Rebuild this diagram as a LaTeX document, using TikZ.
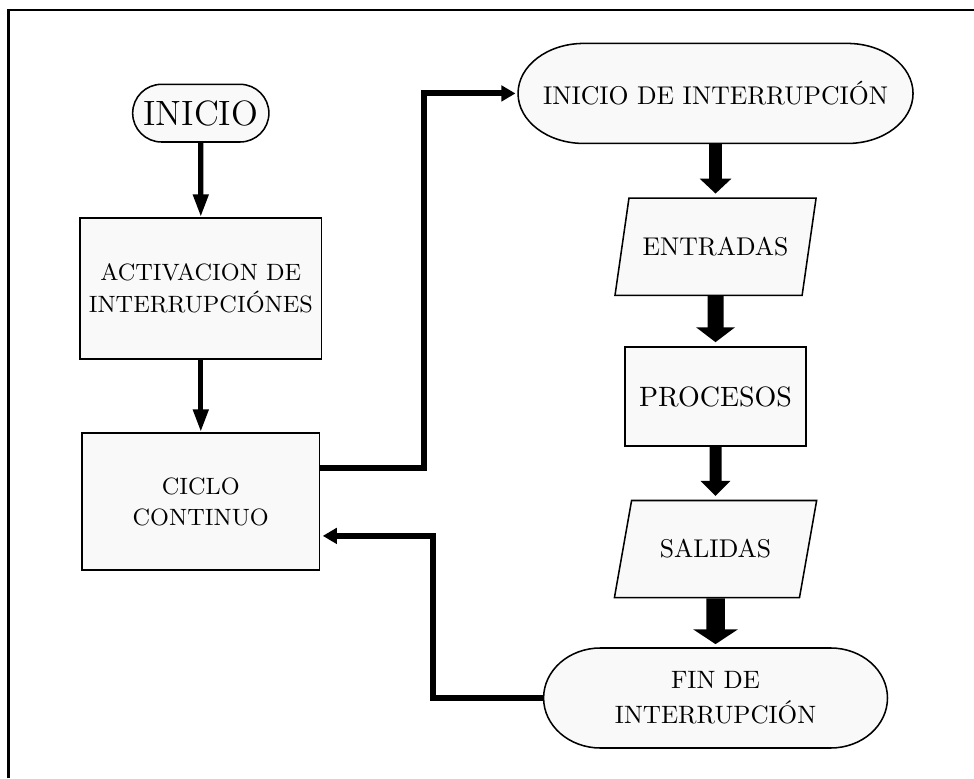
\documentclass[tikz,border=0pt]{standalone}
\usetikzlibrary{arrows.meta, shapes.misc, shapes.geometric, backgrounds}

% outline of a start/end node with elliptic ends: #1 node, #2 length of the end
\newcommand{\capsule}[2]{%
    \filldraw[semithick, fill=gray!5] ([xshift=#2]#1.south west) -- ([xshift=-#2]#1.south east)
        arc[start angle=-90, end angle=90, x radius=#2, y radius=0.685cm]
        -- ([xshift=#2]#1.north west)
        arc[start angle=90, end angle=270, x radius=#2, y radius=0.685cm] -- cycle;}

\begin{document}
\begin{tikzpicture}[
    box/.style={draw, semithick, fill=gray!5, align=center},
    startstop/.style={align=center, minimum height=1.37cm, outer sep=0pt},
    io/.style={box, trapezium, trapezium left angle=70, trapezium right angle=110,
        trapezium stretches=true, minimum width=2.77cm, minimum height=1.33cm},
    down/.style={line width=2.1pt, -{Triangle[length=8.9pt,width=5.7pt]}},
    elbow/.style={line width=2.3pt, -{Triangle[length=5.5pt,width=6pt]}, shorten >=1pt},
    fat/.style={line width=#1, -{Triangle[length=5.8pt,width=0pt 2.4]}, shorten >=1.5pt}
]
    % Page size and frame
    \useasboundingbox (0,0) rectangle (13.34,10.66);
    \draw[line width=1pt] (0.12,0) |- (13.34,10.52);

    % === Left: main program ===
    \node[box, rounded rectangle, minimum width=2.10cm, minimum height=0.79cm,
        font=\fontsize{13.7}{16}\selectfont] (ini) at (2.75,9.11) {INICIO};
    \node[box, minimum width=3.25cm, minimum height=1.93cm,
        font=\fontsize{9.2}{12.2}\selectfont] (act) at (2.75,6.71) {ACTIVACION DE\\INTERRUPCIÓNES};
    \node[box, minimum width=3.25cm, minimum height=1.88cm,
        font=\fontsize{9.2}{12.2}\selectfont] (cic) at (2.75,3.79) {CICLO\\CONTINUO};

    \draw[down] (ini) -- (act);
    \draw[down] (act) -- (cic);

    % === Right: interrupt routine ===
    \node[startstop, minimum width=5.41cm] (iniint) at (9.8,9.38) {INICIO DE INTERRUPCIÓN};
    \node[io] (ent) at (9.8,7.28) {ENTRADAS};
    \node[box, minimum width=2.48cm, minimum height=1.36cm,
        font=\fontsize{10.9}{13}\selectfont] (proc) at (9.8,5.23) {PROCESOS};
    \node[io] (sal) at (9.8,3.14) {SALIDAS};
    \node[startstop, minimum width=4.71cm,
        font=\fontsize{9.8}{13.6}\selectfont] (fin) at (9.8,1.10) {FIN DE\\INTERRUPCIÓN};

    \begin{scope}[on background layer]
        \capsule{iniint}{0.9cm}
        \capsule{fin}{0.78cm}
    \end{scope}

    \draw[fat=5pt] (iniint) -- (ent);
    \draw[fat=6.2pt] (ent) -- (proc);
    \draw[fat=4.7pt] (proc) -- (sal);
    \draw[fat=7.2pt] (sal) -- (fin);

    % Jump into the interrupt and back
    \draw[elbow] ([yshift=0.46cm]cic.east) -- ++(1.42,0) |- (iniint.west);
    \draw[elbow] (fin.west) -- ++(-1.51,0) |- ([yshift=-0.47cm]cic.east);
\end{tikzpicture}
\end{document}
